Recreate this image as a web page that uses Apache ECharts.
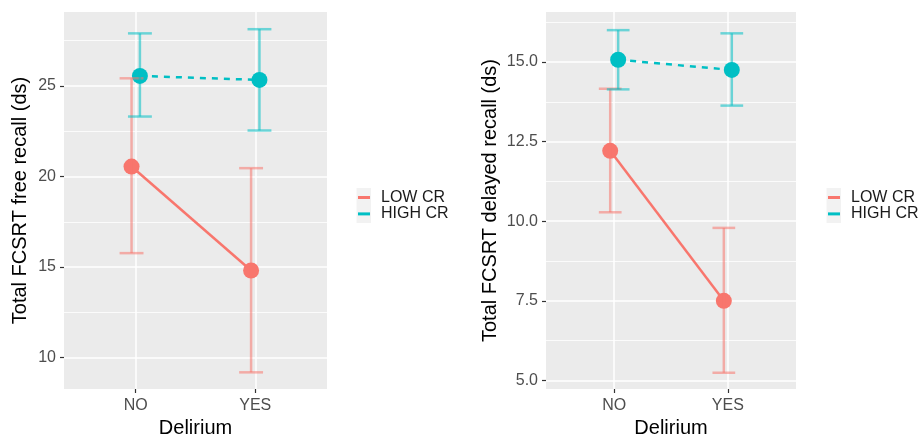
<!DOCTYPE html>
<html>
<head>
<meta charset="utf-8">
<script src="https://cdn.jsdelivr.net/npm/echarts@6/dist/echarts.min.js"></script>
<style>
html,body{margin:0;padding:0;background:#fff;}
#chart{width:920px;height:438px;}
</style>
</head>
<body>
<div id="chart"></div>
<script>
// ---- data ----
var categories = ['NO', 'YES'];
var groups = ['LOW CR', 'HIGH CR'];

var freeMeanLow   = [20.55, 14.81];
var freeLowerLow  = [15.77, 9.19];
var freeUpperLow  = [25.42, 20.46];
var freeMeanHigh  = [25.55, 25.33];
var freeLowerHigh = [23.31, 22.54];
var freeUpperHigh = [27.90, 28.13];

var delMeanLow   = [12.21, 7.50];
var delLowerLow  = [10.28, 5.24];
var delUpperLow  = [14.16, 9.79];
var delMeanHigh  = [15.07, 14.75];
var delLowerHigh = [14.14, 13.63];
var delUpperHigh = [16.00, 15.90];

var freeTicks = [10, 15, 20, 25];
var freeMinor = [12.5, 17.5, 22.5, 27.5];
var delTicks = [5, 7.5, 10, 12.5, 15];
var delMinor = [6.25, 8.75, 11.25, 13.75, 16.25];

var freeTitle = 'Total FCSRT free recall (ds)';
var delTitle = 'Total FCSRT delayed recall (ds)';
var xTitle = 'Delirium';

// ---- styling ----
var RED = '#F8766D', CYAN = '#00BFC4';
var FONT = "'Liberation Sans', Arial, sans-serif";
var DODGE = 0.035, CAP = 0.1;

function pts(means, off) {
  return means.map(function (m, i) { return [i + 1 + off, m]; });
}
function bars(lo, hi, off) {
  return lo.map(function (l, i) { return [i + 1 + off, l, hi[i]]; });
}
function errRender(color) {
  return function (params, api) {
    var x = api.value(0), lo = api.value(1), hi = api.value(2);
    var pLo = api.coord([x, lo]), pHi = api.coord([x, hi]);
    var l1 = api.coord([x - CAP, lo]), r1 = api.coord([x + CAP, lo]);
    var l2 = api.coord([x - CAP, hi]), r2 = api.coord([x + CAP, hi]);
    var st = { stroke: color, lineWidth: 2.5, opacity: 1 };
    return {
      type: 'group',
      children: [
        { type: 'line', shape: { x1: pLo[0], y1: pLo[1], x2: pHi[0], y2: pHi[1] }, style: st },
        { type: 'line', shape: { x1: l1[0], y1: l1[1], x2: r1[0], y2: r1[1] }, style: st },
        { type: 'line', shape: { x1: l2[0], y1: l2[1], x2: r2[0], y2: r2[1] }, style: st }
      ]
    };
  };
}

var grids = [
  { left: 64, top: 12, width: 263, height: 377, show: true, backgroundColor: '#EBEBEB', borderWidth: 0,
    containLabel: false, outerBoundsMode: 'none' },
  { left: 546, top: 12, width: 250, height: 377, show: true, backgroundColor: '#EBEBEB', borderWidth: 0,
    containLabel: false, outerBoundsMode: 'none' }
];

function xAxisFor(gi) {
  return {
    type: 'value', gridIndex: gi, min: 0.4, max: 2.6,
    name: xTitle, nameLocation: 'middle', nameGap: 29,
    nameTextStyle: { fontSize: 20, color: '#000', fontFamily: FONT },
    axisLine: { show: false },
    axisTick: { show: true, length: 4, lineStyle: { color: '#333', width: 1.2 }, customValues: [1, 2] },
    axisLabel: { customValues: [1, 2], fontSize: 16, color: '#4D4D4D', fontFamily: FONT, margin: 9,
      formatter: function (v) { return categories[Math.round(v) - 1]; } },
    splitLine: { show: true, lineStyle: { color: '#fff', width: 1.5 } }
  };
}
function yAxisFor(gi, min, max, ticks, title, gap, fmt) {
  return {
    type: 'value', gridIndex: gi, min: min, max: max,
    name: title, nameLocation: 'middle', nameGap: gap, nameRotate: 90,
    nameTextStyle: { fontSize: 20, color: '#000', fontFamily: FONT },
    axisLine: { show: false },
    axisTick: { show: true, length: 4, lineStyle: { color: '#333', width: 1.2 }, customValues: ticks },
    axisLabel: { customValues: ticks, fontSize: 16, color: '#4D4D4D', fontFamily: FONT, margin: 8, formatter: fmt },
    splitLine: { show: true, lineStyle: { color: '#fff', width: 1.5 } }
  };
}
function minorAxisFor(gi, min, max, vals) {
  return {
    type: 'value', gridIndex: gi, min: min, max: max, position: 'left',
    axisLine: { show: false },
    axisTick: { show: false, customValues: vals },
    axisLabel: { show: false, customValues: vals },
    splitLine: { show: true, lineStyle: { color: '#fff', width: 0.8 } }
  };
}

var series = [];
function addPanel(gi, yi, mLow, loLow, hiLow, mHigh, loHigh, hiHigh) {
  series.push({
    type: 'line', name: groups[0], xAxisIndex: gi, yAxisIndex: yi,
    data: pts(mLow, -DODGE), symbol: 'circle', symbolSize: 16,
    itemStyle: { color: RED }, lineStyle: { color: RED, width: 2.5, type: 'solid' }, z: 3
  });
  series.push({
    type: 'line', name: groups[1], xAxisIndex: gi, yAxisIndex: yi,
    data: pts(mHigh, DODGE), symbol: 'circle', symbolSize: 16,
    itemStyle: { color: CYAN }, lineStyle: { color: CYAN, width: 2.5, type: [6, 6] }, z: 3
  });
  series.push({
    type: 'custom', name: groups[0], xAxisIndex: gi, yAxisIndex: yi,
    data: bars(loLow, hiLow, -DODGE), renderItem: errRender('rgba(248,118,109,0.55)'), z: 4, silent: true
  });
  series.push({
    type: 'custom', name: groups[1], xAxisIndex: gi, yAxisIndex: yi,
    data: bars(loHigh, hiHigh, DODGE), renderItem: errRender('rgba(0,191,196,0.55)'), z: 4, silent: true
  });
}
addPanel(0, 0, freeMeanLow, freeLowerLow, freeUpperLow, freeMeanHigh, freeLowerHigh, freeUpperHigh);
addPanel(1, 2, delMeanLow, delLowerLow, delUpperLow, delMeanHigh, delLowerHigh, delUpperHigh);

function legendAt(left) {
  return {
    orient: 'vertical', left: left, top: 189.5, itemWidth: 12, itemHeight: 3, itemGap: 0.4,
    padding: 0, selectedMode: false,
    textStyle: { fontSize: 16, lineHeight: 16, color: '#1A1A1A', fontFamily: FONT, padding: [0, 0, 0, 6] },
    data: [
      { name: groups[0], icon: 'rect', itemStyle: { color: RED } },
      { name: groups[1], icon: 'rect', itemStyle: { color: CYAN } }
    ]
  };
}

var chart = echarts.init(document.getElementById('chart'), null, { renderer: 'canvas' });
chart.setOption({
  animation: false,
  backgroundColor: '#fff',
  textStyle: { fontFamily: FONT },
  grid: grids,
  xAxis: [xAxisFor(0), xAxisFor(1)],
  yAxis: [
    yAxisFor(0, 8.27, 29.08, freeTicks, freeTitle, 34, function (v) { return String(v); }),
    minorAxisFor(0, 8.27, 29.08, freeMinor),
    yAxisFor(1, 4.73, 16.57, delTicks, delTitle, 46, function (v) { return v.toFixed(1); }),
    minorAxisFor(1, 4.73, 16.57, delMinor)
  ],
  legend: [legendAt(358), legendAt(828)],
  graphic: [
    { type: 'rect', left: 356.5, top: 188, shape: { width: 14.5, height: 35 }, style: { fill: '#F2F2F2' }, z: -1 },
    { type: 'rect', left: 826.5, top: 188, shape: { width: 14.5, height: 35 }, style: { fill: '#F2F2F2' }, z: -1 }
  ],
  series: series
});
</script>
</body>
</html>
